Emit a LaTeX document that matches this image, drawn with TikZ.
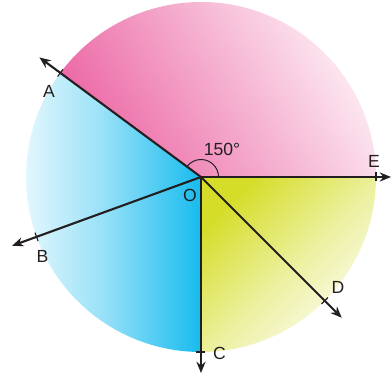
\documentclass[tikz,border=0pt]{standalone}
\usepackage{fontspec}
\setmainfont{Liberation Sans}
\usetikzlibrary{arrows.meta, calc}
\definecolor{PinkDark}{HTML}{EC68A5}
\definecolor{PinkLight}{HTML}{FDEDF4}
\definecolor{CyanDark}{HTML}{17BBEE}
\definecolor{CyanLight}{HTML}{F8FDFF}
\definecolor{LimeDark}{HTML}{D5DD28}
\definecolor{LimeLight}{HTML}{FDFEF6}
\definecolor{Ink}{HTML}{231F20}

\begin{document}
\begin{tikzpicture}[x=0.025cm, y=0.025cm,
    ray/.style={draw=Ink, line width=1.5pt, -{Stealth[length=8pt, width=6.5pt]}},
    tickmark/.style={draw=Ink, line width=0.8pt},
    lbl/.style={font=\fontsize{12.5}{15}\selectfont, text=Ink, inner sep=0pt}]
\useasboundingbox (0,0) rectangle (391,376);
\coordinate (O) at (201,199);

% coloured sectors
\shade[top color=PinkLight, bottom color=PinkDark, shading angle=-60]
    (O) -- ++(0:175) arc[start angle=0, end angle=143.5, radius=175] -- cycle;
\shade[left color=CyanLight, right color=CyanDark, middle color=CyanDark!42!CyanLight]
    (O) -- ++(143.5:175) arc[start angle=143.5, end angle=270, radius=175] -- cycle;
\shade[top color=LimeDark, bottom color=LimeLight, middle color=LimeDark!45!LimeLight, shading angle=45]
    (O) -- ++(270:175) arc[start angle=270, end angle=360, radius=175] -- cycle;

% angle mark
\draw[Ink, line width=0.7pt] ($(O)+(0:17.5)$) arc[start angle=0, end angle=143.5, radius=17.5];

% rays with ticks on the circle
\foreach \ang/\len/\name in {143.5/201/A, 200/201/B, 270/196/C, -45/199/D, 0/190/E} {
    \coordinate (\name) at ($(O)+(\ang:\len)$);
    \coordinate (t\name) at ($(O)+(\ang:175)$);
    \draw[ray] (O) -- (\name);
    \draw[tickmark] ($(t\name)+(\ang+90:4.5)$) -- ($(t\name)+(\ang-90:4.5)$);
}

% labels
\node[lbl] (labA) at (49,285) {A};
\node[lbl] (labB) at (42.5,119.5) {B};
\node[lbl] (labC) at (219.5,22.5) {C};
\node[lbl] (labD) at (338,89) {D};
\node[lbl] (labE) at (374,214.5) {E};
\node[lbl] (labO) at (190,181) {O};
\node[lbl] (labAngle) at (222,226.5) {150°};
\end{tikzpicture}
\end{document}
